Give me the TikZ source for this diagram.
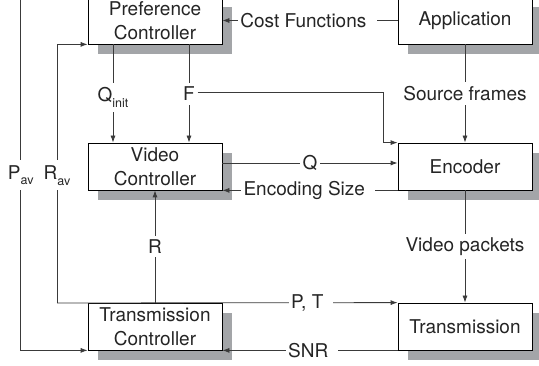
\documentclass[tikz,border=0pt]{standalone}
\usepackage{fontspec}
\setmainfont{TeX Gyre Heros}
\usetikzlibrary{arrows.meta,shadows}
\definecolor{shadowgray}{HTML}{A3A5A8}
\definecolor{linegray}{HTML}{3A3A3A}
\definecolor{txt}{HTML}{252525}
\begin{document}
\begin{tikzpicture}[x=1pt,y=-1pt,
  font=\fontsize{19}{23.5}\selectfont, text=txt,
  box/.style={draw=black, line width=0.8pt, fill=white, minimum width=134pt, minimum height=47pt,
    align=center, inner sep=0pt,
    drop shadow={shadow xshift=10pt, shadow yshift=-10pt, fill=shadowgray, opacity=1}},
  lab/.style={fill=white, inner sep=2.5pt},
  conn/.style={draw=linegray, line width=0.8pt},
  arr/.style={conn, -{Latex[length=7pt,width=5pt]}}]
\useasboundingbox (0,0) rectangle (539,366);
% boxes
\node[box] (pref) at (155,20.5) {Preference\\Controller};
\node[box] (app) at (465,20.5) {Application};
\node[box] (vc) at (155,166.5) {Video\\Controller};
\node[box] (enc) at (465,166.5) {Encoder};
\node[box] (tc) at (155,326.5) {Transmission\\Controller};
\node[box] (tr) at (465,326.5) {Transmission};
% coordinates
\coordinate (pavtop) at (20.7,-5);
\coordinate (rav) at (57,303);
\coordinate (fc) at (383,92);
% connectors
\draw[arr] (app.west) -- node[lab, pos=0.515] {Cost Functions\rule{8pt}{0pt}} (pref.east);
\draw[arr] ([xshift=-42pt]pref.south) -- node[lab, pos=0.54, inner ysep=4pt] {Q\raisebox{-0.6ex}{\fontsize{12.5}{14}\selectfont init}} ([xshift=-42pt]vc.north);
\draw[arr] ([xshift=34pt]pref.south) -- node[lab, pos=0.505, inner ysep=4pt] (F) {F} ([xshift=34pt]vc.north);
\draw[arr] (F.east |- fc) -- (fc) |- (enc.north west);
\draw[arr] (app.south) -- node[lab, inner ysep=4pt] {Source frames} (enc.north);
\draw[arr] ([yshift=3.5pt]vc.east) -- node[lab, pos=0.5] {Q} ([yshift=3.5pt]enc.west);
\draw[arr] (enc.south west) -- node[lab, pos=0.51] {Encoding Size\rule{8pt}{0pt}} (vc.south east);
\draw[arr] (enc.south) -- node[lab, inner ysep=4pt] {Video packets} (tr.north);
\draw[arr] (tc.north) -- node[lab, inner ysep=4pt] {R} (vc.south);
\draw[arr] (rav) -- node[lab, pos=0.745] {P, T\rule{7pt}{0pt}} (tr.north west);
\draw[arr] (rav) |- node[lab, pos=0.247, inner xsep=1pt, inner ysep=5pt] {R\raisebox{-0.6ex}{\fontsize{12.5}{14}\selectfont av}} (pref.south west);
\draw[arr] (pavtop) |- node[lab, pos=0.2535, inner xsep=1pt, inner ysep=5pt] {P\raisebox{-0.6ex}{\fontsize{12.5}{14}\selectfont av}} (tc.south west);
\draw[arr] (tr.south west) -- node[lab, pos=0.49] {SNR\rule{7pt}{0pt}} (tc.south east);
\end{tikzpicture}
\end{document}
